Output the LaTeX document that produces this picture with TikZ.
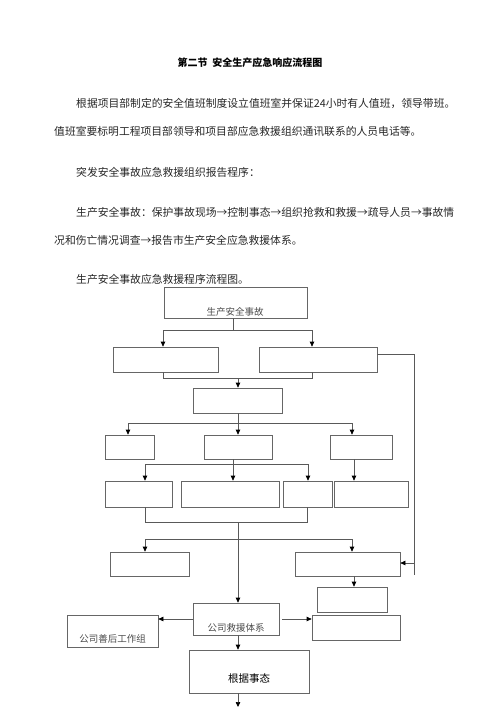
\documentclass[tikz,border=0pt]{standalone}
\usepackage{fontspec}
\setmainfont{Noto Sans CJK SC}
\usetikzlibrary{arrows.meta}
\begin{document}
\begin{tikzpicture}[x=1pt,y=-1pt]
        \tikzstyle{box}=[draw=black!60,line width=0.7pt,inner sep=0pt,font=\fontsize{10}{12}\selectfont]
        \tikzstyle{link}=[draw=black!65,line width=0.7pt]
        \tikzstyle{flow}=[link,-{Triangle[length=5pt,width=4.5pt,color=black]}]
        \tikzstyle{para}=[anchor=west,inner sep=0pt,text=black!85,font=\fontsize{10.8}{13}\selectfont]
        \useasboundingbox (0,0) rectangle (500,707);
        % heading and text
        \node [font=\fontsize{10}{12}\selectfont\bfseries,inner sep=0pt] (title) at (250,63) {第二节\ \ 安全生产应急响应流程图};
        \node [para] (p1) at (76,103) {根据项目部制定的安全值班制度设立值班室并保证24小时有人值班，领导带班。};
        \node [para] (p2) at (54,131) {值班室要标明工程项目部领导和项目部应急救援组织通讯联系的人员电话等。};
        \node [para] (p3) at (76,172) {突发安全事故应急救援组织报告程序：};
        \node [para] (p4) at (76,212) {生产安全事故：保护事故现场→控制事态→组织抢救和救援→疏导人员→事故情};
        \node [para] (p5) at (54,240) {况和伤亡情况调查→报告市生产安全应急救援体系。};
        \node [para] (p6) at (76,279) {生产安全事故应急救援程序流程图。};
        % boxes
        \node [box,minimum width=143pt,minimum height=31pt] (top) at (235.5,302.5) {};
        \node [font=\fontsize{9.5}{11}\selectfont,text=black!70,inner sep=0pt] (toptxt) at (235,312) {生产安全事故};
        \node [box,minimum width=105pt,minimum height=25pt] (l1) at (165.5,359.5) {};
        \node [box,minimum width=118pt,minimum height=25pt] (r1) at (318,359.5) {};
        \node [box,minimum width=89pt,minimum height=25pt] (mid) at (237.5,400.5) {};
        \node [box,minimum width=49pt,minimum height=24pt] (a) at (129.5,447) {};
        \node [box,minimum width=68pt,minimum height=24pt] (b) at (238,447) {};
        \node [box,minimum width=62pt,minimum height=24pt] (c) at (361,447) {};
        \node [box,minimum width=67pt,minimum height=26pt] (d) at (138.5,494) {};
        \node [box,minimum width=98pt,minimum height=26pt] (e) at (230,494) {};
        \node [box,minimum width=49pt,minimum height=26pt] (f) at (307.5,494) {};
        \node [box,minimum width=74pt,minimum height=26pt] (g) at (371,494) {};
        \node [box,minimum width=79pt,minimum height=24pt] (h) at (149.5,564) {};
        \node [box,minimum width=105pt,minimum height=24pt] (i) at (347.5,564) {};
        \node [box,minimum width=70pt,minimum height=25pt] (j) at (352,599.5) {};
        \node [box,minimum width=86pt,minimum height=32pt] (k) at (236,619) {};
        \node [font=\fontsize{9.5}{11}\selectfont,text=black!70,inner sep=0pt] (ktxt) at (236,628) {公司救援体系};
        \node [box,minimum width=91pt,minimum height=32pt] (l) at (112.5,631) {};
        \node [font=\fontsize{9.5}{11}\selectfont,text=black!70,inner sep=0pt] (ltxt) at (112.5,639) {公司善后工作组};
        \node [box,minimum width=88pt,minimum height=25pt] (m) at (356,627.5) {};
        \node [box,minimum width=120pt,minimum height=43pt] (n) at (249,671.5) {};
        \node [font=\fontsize{10.5}{12}\selectfont,inner sep=0pt] (ntxt) at (249,678) {根据事态};
        % connectors
        \coordinate (c1) at (233,330);
        \path[link] (top.south -| c1) -- (c1);
        \path[flow] (c1) -| (l1.north -| 163,0);
        \path[flow] (c1) -| (r1.north -| 312,0);
        \coordinate (c2) at (238,378);
        \path[link] (l1.south -| 163,0) |- (c2);
        \path[link] (r1.south -| 312,0) |- (c2);
        \path[flow] (c2) -- (mid.north -| c2);
        \coordinate (c3) at (414,575);
        \coordinate (c4) at (414,563);
        \path[link] (r1.east |- 0,354) -| (c3);
        \path[flow] (c4) -- (i.east |- c4);
        \coordinate (c5) at (238,423);
        \path[link] (mid.south -| c5) -- (c5);
        \path[flow] (c5) -| (a.north -| 128,0);
        \path[flow] (c5) -- (b.north -| c5);
        \path[flow] (c5) -| (c.north -| 352,0);
        \coordinate (c6) at (233,464);
        \path[link] (b.south -| c6) -- (c6);
        \path[flow] (c6) -| (d.north -| 145,0);
        \path[flow] (c6) -- (e.north -| c6);
        \path[flow] (c6) -| (f.north -| 308,0);
        \path[flow] (c.south -| 354,0) -- (g.north -| 354,0);
        \coordinate (c7) at (238,522);
        \path[link] (d.south -| 145,0) |- (c7);
        \path[link] (f.south -| 307,0) |- (c7);
        \path[flow] (c7) -- (k.north -| c7);
        \coordinate (c8) at (238,539);
        \path[flow] (c8) -| (h.north -| 145,0);
        \path[flow] (c8) -| (i.north -| 352,0);
        \path[flow] (i.south -| 354,0) -- (j.north -| 354,0);
        \path[flow] (k.west |- 0,619) -- (l.east |- 0,619);
        \path[flow] ([xshift=3pt]k.east) -- (m.west |- k.east);
        \path[flow] (k.south -| 238,0) -- (n.north -| 238,0);
        \coordinate (c9) at (238,707);
        \path[flow] (n.south -| c9) -- (c9);
\end{tikzpicture}
\end{document}
